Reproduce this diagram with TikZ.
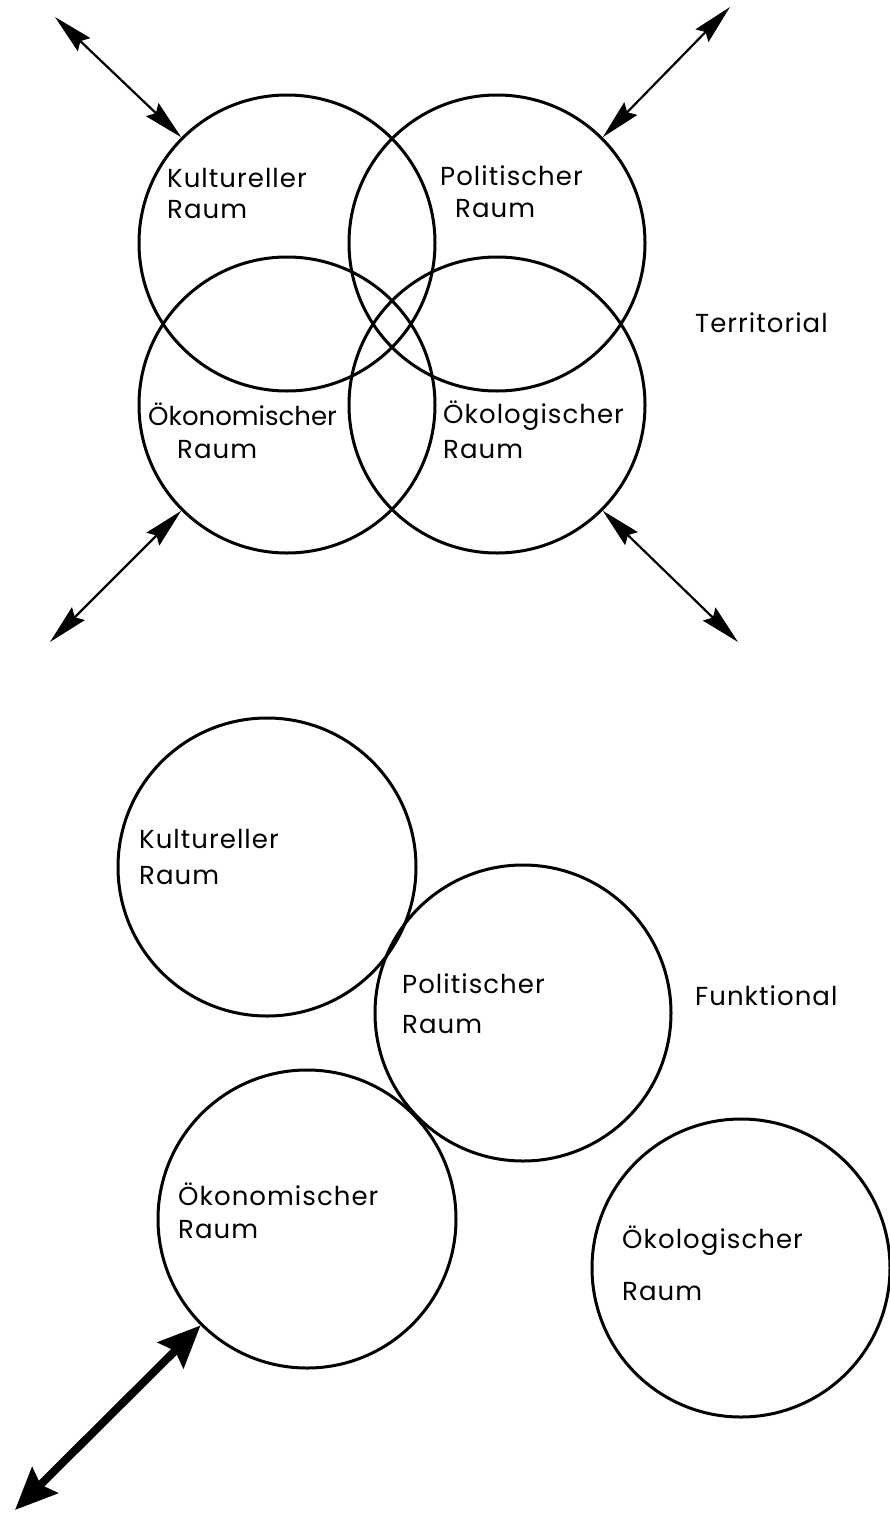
\documentclass[tikz,border=0pt]{standalone}
\usepackage{fontspec}
\setmainfont{Poppins}[LetterSpace=4]
\usetikzlibrary{arrows.meta}
\begin{document}
\begin{tikzpicture}[x=1pt,y=-1pt,
  raum/.style={circle, draw, line width=3pt, minimum size=#1, inner sep=0pt},
  lab/.style={font=\fontsize{26}{32}\selectfont, align=left, anchor=base west, inner sep=0pt},
  thintip/.tip={Stealth[length=40pt,width=18pt,inset=5pt]},
  dbl/.style={line width=2.2pt, thintip-thintip},
  boldtip/.tip={Stealth[length=42pt,width=36pt,inset=6pt]},
  boldarrow/.style={line width=8pt, boldtip-boldtip}]
\useasboundingbox (0,0) rectangle (889,1515);
% Territorial
\node[raum=296pt] (k1) at (287,243) {};
\node[raum=296pt] (p1) at (497,243) {};
\node[raum=296pt] (o1) at (287,405) {};
\node[raum=296pt] (e1) at (497,405) {};
\coordinate (a1) at (55,17);
\coordinate (a2) at (730,7);
\coordinate (a3) at (50,642);
\coordinate (a4) at (738,642);
\draw[dbl] (a1) -- (k1.135);
\draw[dbl] (a2) -- (p1.45);
\draw[dbl] (a3) -- (o1.225);
\draw[dbl] (a4) -- (e1.-45);
\node[lab] (tk1) at (167,218) {Kultureller\\[-1pt]Raum};
\node[lab] (tp1) at (440,217) {Politischer\\\hspace*{15pt}Raum};
\node[lab] (to1) at (148,458) {\addfontfeatures{LetterSpace=0}Ökonomischer\\[1pt]\hspace*{29pt}Raum};
\node[lab] (te1) at (443,458) {Ökologischer\\[3pt]Raum};
\node[lab] (terr) at (695,332) {Territorial};
% Funktional
\node[raum=298pt] (k2) at (267,867) {};
\node[raum=296pt] (p2) at (523,1013) {};
\node[raum=298pt] (o2) at (307,1219) {};
\node[raum=298pt] (e2) at (741,1268) {};
\coordinate (a5) at (15,1510);
\draw[boldarrow] (a5) -- (o2.225);
\node[lab] (tk2) at (139,884) {Kultureller\\[4pt]Raum};
\node[lab] (tp2) at (402,1033) {Politischer\\[8pt]Raum};
\node[lab] (to2) at (178,1238) {Ökonomischer\\[1pt]Raum};
\node[lab] (te2) at (622,1300) {Ökologischer\\[20pt]Raum};
\node[lab] (funk) at (695,1005) {Funktional};
\end{tikzpicture}
\end{document}
